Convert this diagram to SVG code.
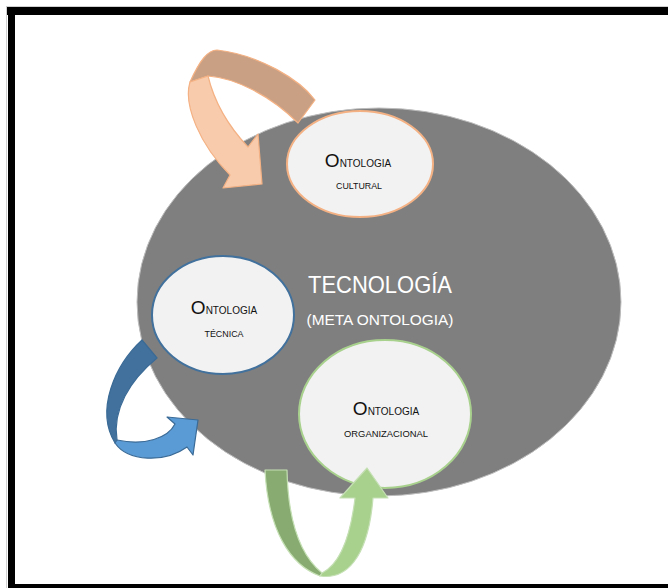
<svg xmlns="http://www.w3.org/2000/svg" width="668" height="588" viewBox="0 0 668 588">
<style>
.frame{fill:#000}
.node{fill:#f2f2f2;stroke-width:2}
.t{font-family:"Liberation Sans",Arial,sans-serif;fill:#111;text-anchor:middle}
.big{font-size:19px}
.sm{font-size:10px}
.sub{font-size:9.5px}
.w{font-family:"Liberation Sans",Arial,sans-serif;fill:#fff;text-anchor:middle}
</style>
<rect x="0" y="0" width="668" height="588" fill="#fff"/>
<rect x="6" y="6" width="662" height="1" fill="#d0d0d0"/>
<rect x="6" y="6" width="1" height="582" fill="#d0d0d0"/>
<rect class="frame" x="7" y="7" width="661" height="8"/>
<rect class="frame" x="8" y="7" width="7" height="581"/>
<rect class="frame" x="8" y="584" width="660" height="4"/>

<g id="tecnologia">
<ellipse cx="379" cy="302" rx="242" ry="194" fill="#7f7f7f" stroke="#bdbdbd" stroke-width="1"/>
<text class="w" x="380" y="293" font-size="24" textLength="144" lengthAdjust="spacingAndGlyphs">TECNOLOGÍA</text>
<text class="w" x="380" y="325" font-size="15" textLength="147" lengthAdjust="spacingAndGlyphs">(META ONTOLOGIA)</text>
</g>

<g id="cultural">
<ellipse class="node" cx="360" cy="164" rx="73" ry="53" stroke="#f4b183"/>
<text class="t" x="358" y="167"><tspan class="big">O</tspan><tspan class="sm">NTOLOGIA</tspan></text>
<text class="t sub" x="359" y="189" textLength="46" lengthAdjust="spacingAndGlyphs">CULTURAL</text>
</g>

<g id="tecnica">
<ellipse class="node" cx="223" cy="315" rx="71" ry="59" stroke="#41719c"/>
<text class="t" x="224" y="314"><tspan class="big">O</tspan><tspan class="sm">NTOLOGIA</tspan></text>
<text class="t sub" x="224" y="337" textLength="39" lengthAdjust="spacingAndGlyphs">TÉCNICA</text>
</g>

<g id="organizacional">
<ellipse class="node" cx="385" cy="414" rx="86" ry="74" stroke="#a9d18e"/>
<text class="t" x="386" y="415"><tspan class="big">O</tspan><tspan class="sm">NTOLOGIA</tspan></text>
<text class="t sub" x="386" y="437" textLength="84" lengthAdjust="spacingAndGlyphs">ORGANIZACIONAL</text>
</g>

<g id="connectors" stroke-width="1.2" stroke-linejoin="round">
<g id="arrow-cultural" stroke="#f4b183">
<path d="M315,100 C300,80 260,55 217,50 C208,50 200,60 190,82 L208,76 C235,78 270,95 298,123 Z" fill="#c9a084"/>
<path d="M190,82 C183,105 200,145 230,175 L223,188 L262,184 L258,134 L248,147 C232,130 215,105 208,76 Z" fill="#f8cbad"/>
</g>
<g id="arrow-tecnica" stroke="#3a6a96">
<path d="M142,340 C115,365 95,410 115,443 L117,440 C112,410 130,380 157,358 Z" fill="#41719c"/>
<path d="M115,443 C128,462 165,463 187,447 L193,455 L198,420 L167,417 L175,424 C168,438 145,446 117,440 Z" fill="#5b9bd5"/>
</g>
<g id="arrow-organizacional" stroke="#c5e0b4">
<path d="M265,470 L287,470 C288,520 300,555 322,573 L320,576 C290,565 268,530 265,470 Z" fill="#87ab70"/>
<path d="M320,576 C345,580 368,560 373,498 L388,498 L367,468 L340,498 L355,498 C350,540 338,565 322,573 Z" fill="#a9d18e"/>
</g>
</g>
</svg>
